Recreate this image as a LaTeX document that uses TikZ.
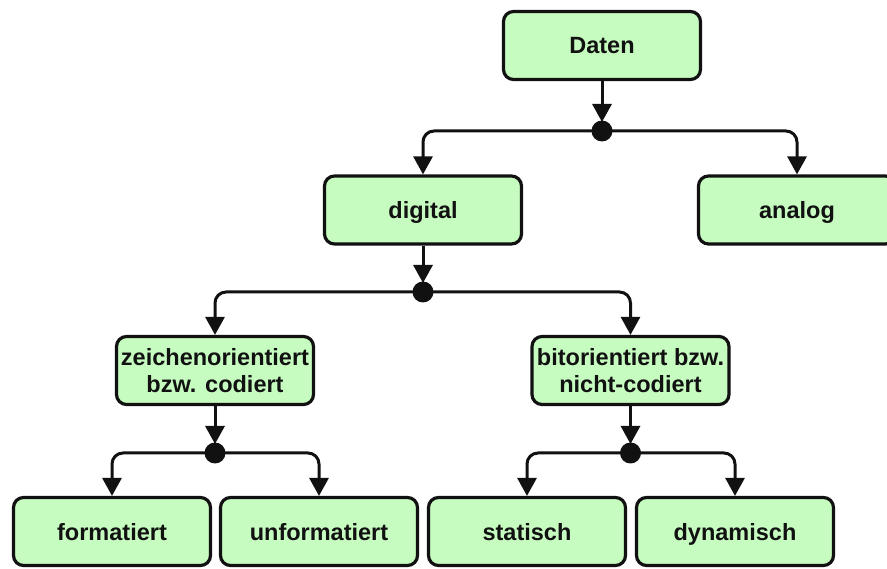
\documentclass[tikz,border=0pt]{standalone}
\usepackage{fontspec}
\setmainfont{Liberation Sans}
\usetikzlibrary{arrows.meta}
\definecolor{boxfill}{HTML}{C6FCC0}
\definecolor{ink}{HTML}{111111}
\begin{document}
\begin{tikzpicture}[x=1pt,y=-1pt,
  catbox/.style={draw=ink, fill=boxfill, line width=3.2pt, rounded corners=10pt,
    minimum width=197pt, minimum height=68pt, align=center, inner sep=2pt,
    font=\bfseries\fontsize{23.5}{26.5}\selectfont, text=ink},
  oneline/.style={catbox, text height=21pt, text depth=4pt},
  tip/.style={-{Triangle[length=18pt,width=19pt]}},
  link/.style={draw=ink, line width=3pt, rounded corners=11pt, tip},
  stem/.style={draw=ink, line width=3pt, tip},
  junction/.style={circle, fill=ink, inner sep=0pt, minimum size=21pt}]
\useasboundingbox (0,0) rectangle (887,569);
\clip (0,0) rectangle (887,569);

% category boxes
\node[oneline] (daten) at (602,45.5) {Daten};
\node[oneline] (digital) at (423,210) {digital};
\node[oneline] (analog) at (797,210) {analog};
\node[catbox] (zeichen) at (215,370.5) {zeichenorientiert\\bzw. codiert};
\node[catbox] (bit) at (630.5,370.5) {bitorientiert bzw.\\nicht-codiert};
\node[oneline] (formatiert) at (112,531.5) {formatiert};
\node[oneline] (unformatiert) at (319,531.5) {unformatiert};
\node[oneline] (statisch) at (527,531.5) {statisch};
\node[oneline] (dynamisch) at (735,531.5) {dynamisch};

% branching points
\coordinate (j1) at (602,131);
\coordinate (j2) at (423,292);
\coordinate (j3) at (215,453);
\coordinate (j4) at (630.5,453);

% stems into the branching points
\draw[stem] (daten.south) -- ([yshift=9pt]j1);
\draw[stem] (digital.south) -- ([yshift=9pt]j2);
\draw[stem] (zeichen.south) -- ([yshift=9pt]j3);
\draw[stem] (bit.south) -- ([yshift=9pt]j4);

% branches
\draw[link] (j1) -| (digital.north);
\draw[link] (j1) -| (analog.north);
\draw[link] (j2) -| (zeichen.north);
\draw[link] (j2) -| (bit.north);
\draw[link] (j3) -| (formatiert.north);
\draw[link] (j3) -| (unformatiert.north);
\draw[link] (j4) -| (statisch.north);
\draw[link] (j4) -| (dynamisch.north);

% dots drawn over the line joins
\node[junction] (dot1) at (j1) {};
\node[junction] (dot2) at (j2) {};
\node[junction] (dot3) at (j3) {};
\node[junction] (dot4) at (j4) {};
\end{tikzpicture}
\end{document}
